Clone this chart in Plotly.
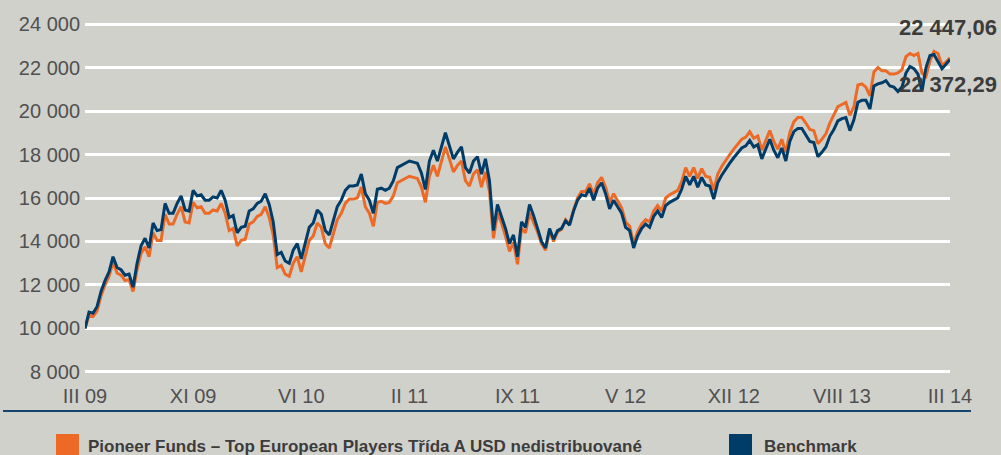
import plotly.graph_objects as go

# ---- data ----
tick_labels = ["III 09", "XI 09", "VI 10", "II 11", "IX 11", "V 12", "XII 12", "VIII 13", "III 14"]

benchmark = [
    10000, 10750, 10700, 11000, 11700, 12200, 12600, 13300, 12800, 12700,
    12450, 12500, 11900, 13000, 13800, 14150, 13700, 14850, 14500, 14550,
    15750, 15300, 15300, 15750, 16100, 15450, 15400, 16350, 16100, 16150,
    15900, 15900, 16050, 16000, 16350, 15900, 15100, 15200, 14400, 14650,
    14700, 15400, 15500, 15750, 15850, 16200, 15700, 14900, 13400, 13500,
    13100, 13000, 13600, 13900, 13200, 14000, 14650, 14850, 15450, 15250,
    14500, 14300, 14900, 15600, 15900, 16350, 16550, 16550, 16600, 17100,
    16200, 15900, 15300, 16400, 16450, 16350, 16450, 16800, 17400, 17500,
    17600, 17700, 17650, 17600, 17150, 16400, 17700, 18200, 17700, 18400,
    19000, 18400, 17800, 18100, 18350, 17400, 17150, 17700, 17900, 17100,
    17800, 16800, 14500, 15700, 15200, 14600, 13900, 14300, 13300, 14900,
    14650, 15700, 15200, 14650, 14000, 13700, 14600, 14100, 14500, 14600,
    14950, 14750, 15400, 15900, 16150, 16100, 16450, 15900, 16450, 16700,
    16200, 15500, 15900, 15600, 15300, 14650, 14500, 13700, 14250, 14600,
    14800, 14650, 15150, 15400, 15100, 15650, 15800, 15900, 16000, 16400,
    17000, 16600, 17000, 16500, 16950, 16600, 16550, 15950, 16700, 17050,
    17350, 17600, 17850, 18100, 18300, 18400, 18650, 18350, 18450, 17800,
    18250, 18700, 18200, 17850, 18300, 17700, 18600, 19050, 19200, 19200,
    18900, 18600, 18550, 17900, 18100, 18350, 18850, 19150, 19550, 19650,
    19700, 19100, 19600, 20400, 20500, 20500, 20100, 21150, 21250, 21300,
    21400, 21150, 21100, 20900, 21100, 21750, 22050, 21950, 21700, 20900,
    22000, 22550, 22600, 22300, 21950, 22150, 22372.29,
]

fund = [
    10000, 10600, 10550, 10800, 11500, 12000, 12400, 13050, 12550, 12450,
    12200, 12250, 11700, 12700, 13450, 13750, 13300, 14400, 14050, 14050,
    15250, 14800, 14800, 15250, 15600, 14900, 14850, 15800, 15550, 15600,
    15300, 15300, 15450, 15400, 15750, 15300, 14500, 14600, 13800, 14050,
    14100, 14800, 14900, 15150, 15250, 15600, 15100, 14300, 12800, 12900,
    12500, 12400, 13000, 13300, 12600, 13400, 14050, 14250, 14850, 14650,
    13900, 13700, 14300, 15000, 15300, 15750, 15950, 15950, 16000, 16500,
    15600, 15300, 14700, 15800, 15850, 15750, 15800, 16100, 16700, 16800,
    16900, 17000, 16950, 16900, 16500, 15800, 17000, 17500, 17000, 17700,
    18350, 17800, 17200, 17500, 17700, 16800, 16550, 17100, 17300, 16500,
    17200, 16300, 14150, 15300, 14850, 14250, 13550, 13950, 12950, 14600,
    14400, 15300, 14900, 14450, 13900, 13600, 14500, 14000, 14450, 14550,
    15000, 14800, 15450, 16000, 16300, 16300, 16650, 16150, 16700, 16950,
    16500, 15800, 16200, 15900, 15550, 14900, 14700, 13900, 14450, 14800,
    15000, 14900, 15400, 15650, 15400, 16000, 16150, 16250, 16350, 16750,
    17400, 17000, 17400, 16900, 17350, 17000, 16950, 16350, 17100, 17450,
    17750, 18000, 18250, 18500, 18700, 18800, 19050, 18750, 18850, 18200,
    18650, 19100, 18600, 18250, 18700, 18100, 19000, 19500, 19700, 19700,
    19450, 19150, 19100, 18500, 18700, 18950, 19450, 19800, 20200, 20300,
    20400, 19800, 20200, 21200, 21250, 21100, 20700, 21800, 22000, 21850,
    21850, 21700, 21700, 21750, 21900, 22500, 22650, 22550, 22650, 21750,
    21600, 22300, 22750, 22650, 22100, 22250, 22447.06,
]

series_names = ["Pioneer Funds – Top European Players Třída A USD nedistribuované", "Benchmark"]
end_labels = ["22 447,06", "22 372,29"]

# ---- styling ----
BG = "rgb(209,209,204)"
ORANGE = "rgb(236,106,37)"
BLUE = "rgb(0,60,104)"
TEXT = "rgb(80,80,80)"
DARK = "rgb(60,60,60)"
FONT = "Liberation Sans, Arial, sans-serif"

W, H = 1001, 455
L, R, T, B = 85, 51, 23, 82
PW, PH = W - L - R, H - T - B

def px(xp):
    return (xp - L) / PW

def py(yp):
    return (H - B - yp) / PH

n = len(benchmark)
x = list(range(n))
tickvals = [k * (n - 1) / (len(tick_labels) - 1) for k in range(len(tick_labels))]

fig = go.Figure()
fig.add_trace(go.Scatter(x=x, y=fund, mode="lines", name=series_names[0],
                         line=dict(color=ORANGE, width=3), showlegend=False))
fig.add_trace(go.Scatter(x=x, y=benchmark, mode="lines", name=series_names[1],
                         line=dict(color=BLUE, width=3), showlegend=False))

shapes = [
    dict(type="line", xref="paper", yref="paper", x0=px(3), x1=px(971), y0=py(411), y1=py(411),
         line=dict(color="rgb(20,70,110)", width=2)),
    dict(type="rect", xref="paper", yref="paper", x0=px(56), x1=px(79), y0=py(434), y1=py(458),
         fillcolor=ORANGE, line=dict(width=0)),
    dict(type="rect", xref="paper", yref="paper", x0=px(729), x1=px(752), y0=py(434), y1=py(458),
         fillcolor=BLUE, line=dict(width=0)),
]

annotations = [
    dict(text=series_names[0], xref="paper", yref="paper", x=px(86), y=py(446), xanchor="left",
         yanchor="middle", showarrow=False, font=dict(family=FONT, size=17, color=DARK, weight="bold")),
    dict(text=series_names[1], xref="paper", yref="paper", x=px(762), y=py(446), xanchor="left",
         yanchor="middle", showarrow=False, font=dict(family=FONT, size=17, color=DARK, weight="bold")),
    dict(text=end_labels[0], xref="paper", yref="paper", x=px(999), y=py(27), xanchor="right",
         yanchor="middle", showarrow=False, font=dict(family=FONT, size=22, color=DARK, weight="bold")),
    dict(text=end_labels[1], xref="paper", yref="paper", x=px(999), y=py(84), xanchor="right",
         yanchor="middle", showarrow=False, font=dict(family=FONT, size=22, color=DARK, weight="bold")),
]

fig.update_layout(
    width=W, height=H,
    margin=dict(l=L, r=R, t=T, b=B, autoexpand=False),
    paper_bgcolor=BG, plot_bgcolor=BG,
    separators=", ",
    shapes=shapes, annotations=annotations,
    font=dict(family=FONT, size=20, color=TEXT),
    xaxis=dict(range=[0, n - 1], tickvals=tickvals, ticktext=tick_labels, showgrid=False,
               zeroline=False, showline=False, ticks="outside", ticklen=5, tickcolor=BG,
               tickfont=dict(family=FONT, size=20, color=TEXT)),
    yaxis=dict(range=[7950, 24050], dtick=2000, tick0=8000, tickformat=",d", showgrid=True,
               gridcolor="white", gridwidth=2.5, zeroline=False, showline=False,
               ticks="", ticklabelstandoff=4,
               tickfont=dict(family=FONT, size=20, color=TEXT)),
)

fig.write_html("out.html", config={"displayModeBar": False},
               post_script="document.body.style.margin='0';document.body.style.overflow='hidden';")
